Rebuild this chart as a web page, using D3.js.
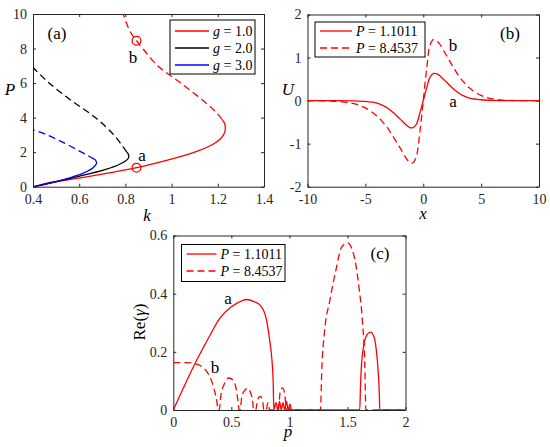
<!DOCTYPE html>
<html>
<head>
<meta charset="utf-8">
<title>Soliton branches</title>
<style>
  body { margin: 0; background: #fff; }
  svg, svg text, .tick text { font-family: "Liberation Serif", "Times New Roman", "DejaVu Serif", serif !important; }
  .tick text { font-size: 14px; fill: #262626; }
  .tick line, .domain { stroke: #262626; }
</style>
</head>
<body>
<div id="chart"></div>
<script src="https://d3js.org/d3.v7.min.js"></script>
<script>
// ---- panel (a): power P vs propagation constant k ----
const kTicks = [0.4, 0.6, 0.8, 1, 1.2, 1.4];
const PTicks = [0, 2, 4, 6, 8, 10];

// g = 1.0 (red)
const g1SolidP = [0, 0.2, 0.5, 0.8, 1.1011, 1.5, 2, 2.5, 3, 3.4, 3.7, 3.9];
const g1SolidK = [0.405, 0.46, 0.6, 0.73, 0.848, 0.97, 1.1, 1.185, 1.225, 1.233, 1.228, 1.218];
const g1DashP = [3.9, 4.2, 4.5, 5, 6, 7, 8, 8.4537, 9, 10, 10.3];
const g1DashK = [1.218, 1.2, 1.178, 1.135, 1.04, 0.94, 0.875, 0.848, 0.82, 0.79, 0.783];
// g = 2.0 (black)
const g2SolidP = [0, 0.3, 0.6, 1, 1.3, 1.6, 1.75, 1.9, 2.0];
const g2SolidK = [0.405, 0.5, 0.6, 0.715, 0.775, 0.81, 0.815, 0.812, 0.806];
const g2DashP = [2.0, 2.3, 3, 4, 5, 6, 6.9, 7.1];
const g2DashK = [0.806, 0.79, 0.75, 0.67, 0.565, 0.47, 0.40, 0.385];
// g = 3.0 (blue)
const g3SolidP = [0, 0.25, 0.5, 0.8, 1.1, 1.35, 1.5, 1.6];
const g3SolidK = [0.405, 0.49, 0.555, 0.62, 0.66, 0.675, 0.672, 0.665];
const g3DashP = [1.6, 1.75, 2, 2.5, 3, 3.3, 3.4];
const g3DashK = [0.665, 0.645, 0.61, 0.54, 0.46, 0.40, 0.38];

const markK = [0.848, 0.848];
const markP = [1.1011, 8.4537];

// ---- panel (b): profiles U(x) ----
const xTicks = [-10, -5, 0, 5, 10];
const UTicks = [-2, -1, 0, 1, 2];
const xA = [-10, -8, -6, -5, -4, -3.5, -3, -2.5, -2, -1.5, -1.2, -0.9, -0.6, -0.3, 0, 0.3, 0.6, 0.9, 1.2, 1.5, 2, 2.5, 3, 3.5, 4, 5, 6, 8, 10];
const UA = [0, 0, -0.005, -0.02, -0.06, -0.11, -0.19, -0.3, -0.43, -0.56, -0.62, -0.63, -0.55, -0.3, 0, 0.3, 0.55, 0.63, 0.62, 0.56, 0.43, 0.3, 0.19, 0.11, 0.06, 0.02, 0.005, 0, 0];
const xB = [-10, -8, -7, -6, -5, -4, -3.5, -3, -2.5, -2, -1.5, -1.2, -0.9, -0.6, -0.3, 0, 0.3, 0.6, 0.9, 1.2, 1.5, 2, 2.5, 3, 3.5, 4, 5, 6, 7, 8, 10];
const UB = [0, -0.01, -0.03, -0.07, -0.17, -0.36, -0.5, -0.67, -0.88, -1.1, -1.33, -1.43, -1.45, -1.3, -0.75, 0, 0.75, 1.3, 1.42, 1.38, 1.28, 1.05, 0.82, 0.6, 0.43, 0.29, 0.12, 0.04, 0.01, 0, 0];

// ---- panel (c): growth rate Re(gamma) vs p ----
const pTicks = [0, 0.5, 1, 1.5, 2];
const gTicks = [0, 0.2, 0.4, 0.6];
const pA = [0, 0.1, 0.2, 0.3, 0.4, 0.5, 0.6, 0.63, 0.7, 0.75, 0.78, 0.8, 0.83, 0.85, 0.86, 0.866,
  0.885, 0.9, 0.915, 0.93, 0.945, 0.96, 0.975, 0.99, 1.005, 1.02,
  1.606, 1.612, 1.62, 1.64, 1.67, 1.7, 1.73, 1.75, 1.765, 1.775, 1.778, 2];
const gA = [0, 0.087, 0.17, 0.245, 0.315, 0.355, 0.377, 0.38, 0.372, 0.36, 0.34, 0.315, 0.24, 0.17, 0.1, 0,
  0.025, 0, 0.03, 0, 0.025, 0, 0.03, 0, 0.02, 0,
  0, 0.08, 0.15, 0.22, 0.26, 0.268, 0.25, 0.2, 0.13, 0.05, 0, 0];
const pB = [0, 0.1, 0.15, 0.2, 0.25, 0.3, 0.33, 0.36, 0.375, 0.385, 0.395, 0.41, 0.44, 0.48, 0.52, 0.545, 0.56, 0.565,
  0.575, 0.59, 0.615, 0.64, 0.665, 0.685, 0.69, 0.71, 0.725, 0.75, 0.77, 0.78, 0.8, 0.815, 0.83,
  0.905, 0.92, 0.94, 0.96, 0.975, 1.267, 1.28, 1.3, 1.35, 1.4, 1.45, 1.5, 1.55, 1.6, 1.63, 1.65, 1.658, 2];
const gB = [0.163, 0.163, 0.162, 0.158, 0.148, 0.125, 0.1, 0.058, 0.03, 0, 0, 0.05, 0.09, 0.11, 0.1, 0.065, 0.02, 0,
  0, 0.045, 0.068, 0.074, 0.06, 0.025, 0, 0, 0.035, 0.047, 0.03, 0, 0, 0.025, 0,
  0, 0.06, 0.076, 0.055, 0, 0, 0.15, 0.26, 0.38, 0.48, 0.56, 0.575, 0.54, 0.42, 0.3, 0.15, 0, 0];

const serif = '"Liberation Serif", "Times New Roman", serif';
const width = 550, height = 447;
const svg = d3.select('#chart').append('svg')
  .attr('width', width)
  .attr('height', height)
  .attr('font-family', serif);

const zip = (xs, ys) => xs.map((x, i) => [x, ys[i]]);
const fmt = d => String(d);

// draws box, inward ticks on four sides, returns the plot group
function makePanel(id, box, xDom, yDom, xt, yt) {
  const x = d3.scaleLinear().domain(xDom).range([box.l, box.r]);
  const y = d3.scaleLinear().domain(yDom).range([box.b, box.t]);
  const g = svg.append('g');

  svg.append('clipPath').attr('id', id)
    .append('rect')
    .attr('x', box.l).attr('y', box.t)
    .attr('width', box.r - box.l).attr('height', box.b - box.t);

  g.append('g').attr('transform', `translate(0,${box.b})`)
    .call(d3.axisBottom(x).tickValues(xt).tickFormat(fmt).tickSizeInner(-3).tickSizeOuter(0).tickPadding(7));
  g.append('g').attr('transform', `translate(0,${box.t})`)
    .call(d3.axisTop(x).tickValues(xt).tickFormat('').tickSizeInner(-3).tickSizeOuter(0));
  g.append('g').attr('transform', `translate(${box.l},0)`)
    .call(d3.axisLeft(y).tickValues(yt).tickFormat(fmt).tickSizeInner(-3).tickSizeOuter(0).tickPadding(6));
  g.append('g').attr('transform', `translate(${box.r},0)`)
    .call(d3.axisRight(y).tickValues(yt).tickFormat('').tickSizeInner(-3).tickSizeOuter(0));
  g.selectAll('g').attr('font-family', serif).attr('font-size', 14);
  g.selectAll('.tick text').attr('font-family', serif);
  g.selectAll('.domain').attr('stroke-width', 1);

  const plot = svg.append('g').attr('clip-path', `url(#${id})`);
  return { x, y, plot };
}

function drawLine(p, pts, color, dashed, curve) {
  const line = d3.line()
    .x(d => p.x(d[0]))
    .y(d => p.y(d[1]))
    .curve(curve || d3.curveCatmullRom.alpha(0.5));
  p.plot.append('path')
    .datum(pts)
    .attr('d', line)
    .attr('fill', 'none')
    .attr('stroke', color)
    .attr('stroke-width', 1.3)
    .attr('stroke-dasharray', dashed ? '7,4' : null);
}

function text(x, y, str, opts) {
  opts = opts || {};
  const t = svg.append('text')
    .attr('x', x).attr('y', y)
    .attr('font-family', serif)
    .attr('font-size', opts.size || 16)
    .attr('text-anchor', opts.anchor || 'middle')
    .attr('fill', '#000');
  if (opts.rotate) t.attr('transform', `rotate(-90,${x},${y})`);
  if (opts.italic) t.attr('font-style', 'italic');
  return t.text(str);
}

function legend(box, rows) {
  svg.append('rect')
    .attr('x', box.x).attr('y', box.y)
    .attr('width', box.w).attr('height', box.h)
    .attr('fill', '#fff').attr('stroke', '#000').attr('stroke-width', 1);
  rows.forEach((r, i) => {
    const yy = box.y + box.row0 + i * box.step;
    svg.append('line')
      .attr('x1', box.x + 5).attr('x2', box.x + 5 + box.len)
      .attr('y1', yy).attr('y2', yy)
      .attr('stroke', r.color).attr('stroke-width', 1.3)
      .attr('stroke-dasharray', r.dashed ? '7,4' : null);
    const t = svg.append('text')
      .attr('x', box.x + 9 + box.len).attr('y', yy + 5)
      .attr('font-family', serif)
      .attr('font-size', 14).attr('fill', '#000');
    t.append('tspan').attr('font-style', 'italic').text(r.sym);
    t.append('tspan').text(' = ' + r.val);
  });
}

// ---------- (a) ----------
const pa = makePanel('clipA', { l: 33, r: 264, t: 14, b: 186.7 }, [0.4, 1.4], [0, 10], kTicks, PTicks);
drawLine(pa, zip(g1SolidK, g1SolidP), '#ff0000', false);
drawLine(pa, zip(g1DashK, g1DashP), '#ff0000', true);
drawLine(pa, zip(g2SolidK, g2SolidP), '#000000', false);
drawLine(pa, zip(g2DashK, g2DashP), '#000000', true);
drawLine(pa, zip(g3SolidK, g3SolidP), '#0000ff', false);
drawLine(pa, zip(g3DashK, g3DashP), '#0000ff', true);
pa.plot.selectAll('circle.mark')
  .data(zip(markK, markP))
  .enter().append('circle')
  .attr('cx', d => pa.x(d[0]))
  .attr('cy', d => pa.y(d[1]))
  .attr('r', 4.4)
  .attr('fill', 'none')
  .attr('stroke', '#ff0000')
  .attr('stroke-width', 1.3);

legend({ x: 170, y: 20, w: 85, h: 54, row0: 11, step: 17, len: 34 }, [
  { color: '#ff0000', sym: 'g', val: '1.0' },
  { color: '#000000', sym: 'g', val: '2.0' },
  { color: '#0000ff', sym: 'g', val: '3.0' }
]);
text(57, 39, '(a)', { size: 17 });
text(133, 63, 'b', { size: 17 });
text(142, 161, 'a', { size: 17 });
text(10, 95, 'P', { italic: true, size: 17 });
text(147, 221, 'k', { italic: true, size: 17 });

// ---------- (b) ----------
const pb = makePanel('clipB', { l: 307.5, r: 539, t: 14.5, b: 186.7 }, [-10, 10], [-2, 2], xTicks, UTicks);
drawLine(pb, zip(xB, UB), '#ff0000', true);
drawLine(pb, zip(xA, UA), '#ff0000', false);
legend({ x: 315, y: 22, w: 110, h: 35, row0: 9, step: 17, len: 32 }, [
  { color: '#ff0000', sym: 'P', val: '1.1011' },
  { color: '#ff0000', sym: 'P', val: '8.4537', dashed: true }
]);
text(510, 39, '(b)', { size: 17 });
text(453, 51, 'b', { size: 17 });
text(453, 107, 'a', { size: 17 });
text(288, 95, 'U', { italic: true, size: 17 });
text(423, 219, 'x', { italic: true, size: 17 });

// ---------- (c) ----------
const pc = makePanel('clipC', { l: 173.3, r: 405.5, t: 235.5, b: 410 }, [0, 2], [0, 0.6], pTicks, gTicks);
drawLine(pc, zip(pB, gB), '#ff0000', true, d3.curveMonotoneX);
drawLine(pc, zip(pA, gA), '#ff0000', false, d3.curveMonotoneX);
legend({ x: 181.5, y: 244.5, w: 103.5, h: 37, row0: 9.5, step: 17, len: 30 }, [
  { color: '#ff0000', sym: 'P', val: '1.1011' },
  { color: '#ff0000', sym: 'P', val: '8.4537', dashed: true }
]);
text(380, 259, '(c)', { size: 17 });
text(228, 304, 'a', { size: 17 });
text(215, 373, 'b', { size: 17 });
const rl = text(145, 322, '', { rotate: true, size: 17 });
rl.append('tspan').text('Re(');
rl.append('tspan').attr('font-style', 'italic').text('γ');
rl.append('tspan').text(')');
text(288, 437, 'p', { italic: true, size: 17 });
</script>
</body>
</html>
